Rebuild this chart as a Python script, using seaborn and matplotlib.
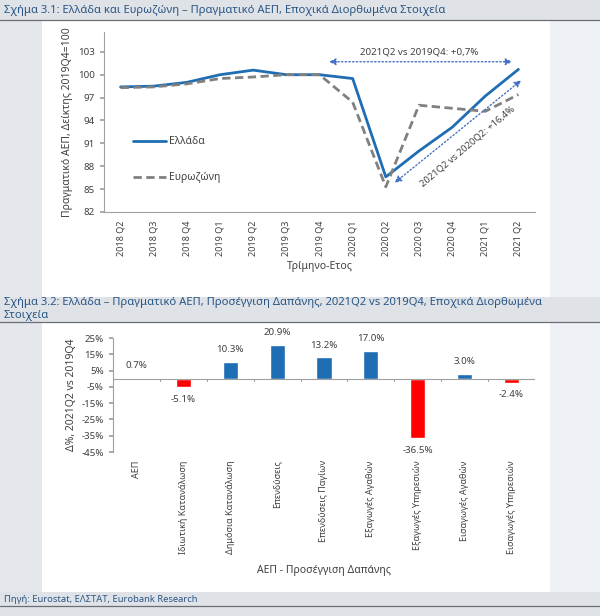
import numpy as np
import pandas as pd
import matplotlib
matplotlib.use("Agg")
import matplotlib.pyplot as plt
from matplotlib.patches import Rectangle
from matplotlib.lines import Line2D
import seaborn as sns

# data: chart 3.1
quarters = ['2018 Q2', '2018 Q3', '2018 Q4', '2019 Q1', '2019 Q2', '2019 Q3', '2019 Q4',
            '2020 Q1', '2020 Q2', '2020 Q3', '2020 Q4', '2021 Q1', '2021 Q2']
greece = [98.4, 98.5, 99.0, 100.0, 100.6, 100.0, 100.0, 99.5, 86.6, 90.0, 93.1, 97.2, 100.7]
eurozone = [98.3, 98.4, 98.8, 99.5, 99.7, 100.0, 100.0, 96.4, 85.3, 96.0, 95.6, 95.2, 97.4]

# data: chart 3.2
components = ['ΑΕΠ', 'Ιδιωτική Κατανάλωση', 'Δημόσια Κατανάλωση', 'Επενδύσεις',
              'Επενδύσεις Παγίων', 'Εξαγωγές Αγαθών', 'Εξαγωγές Υπηρεσιών',
              'Εισαγωγές Αγαθών', 'Εισαγωγές Υπηρεσιών']
change = [0.7, -5.1, 10.3, 20.9, 13.2, 17.0, -36.5, 3.0, -2.4]

BLUE = '#1f6db3'
GREY = '#808080'
ARROW = '#4472c4'
TXT = '#404040'
TITLE = '#2b5684'

sns.set_theme(style='white')
plt.rcParams['font.family'] = ['Noto Sans', 'DejaVu Sans']

fig = plt.figure(figsize=(6, 6.16), dpi=100)
fig.patch.set_facecolor('#eef2f7')

def px(x0, y0, w, h):
    # pixel box (top-left origin) -> figure fraction
    return [x0 / 600, 1 - (y0 + h) / 616, w / 600, h / 616]

# background panels
for (x0, y0, w, h, c) in [(0, 0, 42, 616, '#e4e7eb'), (42, 20, 508, 572, 'white'),
                          (0, 0, 600, 20, '#dfe3e8'), (0, 297, 600, 25, '#dfe3e8'),
                          (42, 322, 508, 270, 'white'), (0, 592, 600, 24, '#dfe3e8')]:
    b = px(x0, y0, w, h)
    fig.patches.append(Rectangle((b[0], b[1]), b[2], b[3], transform=fig.transFigure,
                                 facecolor=c, edgecolor='none', zorder=-10))
for y in [20, 322, 606]:
    fig.add_artist(Line2D([0, 1], [1 - y / 616] * 2, color='#6b6f75', lw=0.9))

fig.text(4 / 600, 1 - 10 / 616, 'Σχήμα 3.1: Ελλάδα και Ευρωζώνη – Πραγματικό ΑΕΠ, Εποχικά Διορθωμένα Στοιχεία',
         color=TITLE, fontsize=8.1, va='center')
fig.text(4 / 600, 1 - 309 / 616,
         'Σχήμα 3.2: Ελλάδα – Πραγματικό ΑΕΠ, Προσέγγιση Δαπάνης, 2021Q2 vs 2019Q4, Εποχικά Διορθωμένα\nΣτοιχεία',
         color=TITLE, fontsize=8.1, va='center', linespacing=1.2)
fig.text(4 / 600, 1 - 599 / 616, 'Πηγή: Eurostat, ΕΛΣΤΑΤ, Eurobank Research',
         color=TITLE, fontsize=6.8, va='center')

# ---- chart 3.1 ----
ax1 = fig.add_axes(px(104, 32, 431, 180))
ax1.set_facecolor('none')
sns.lineplot(x=quarters, y=greece, ax=ax1, color=BLUE, lw=2.0, label='Ελλάδα', sort=False)
sns.lineplot(x=quarters, y=eurozone, ax=ax1, color=GREY, lw=2.0, label='Ευρωζώνη',
             sort=False, linestyle=(0, (3, 1.6)))
ax1.set_xlim(-0.5, len(quarters) - 0.5)
ax1.set_ylim(82, 105.6)
ax1.set_yticks(np.arange(82, 104, 3))
ax1.set_xticks(range(len(quarters)))
ax1.set_xticklabels(quarters, rotation=90, fontsize=6.5, color=TXT)
ax1.set_xticks(np.arange(-0.5, len(quarters), 1), minor=True)
ax1.tick_params(axis='x', which='major', length=0, pad=6)
ax1.tick_params(axis='x', which='minor', length=3, color='#a0a0a0', direction='out')
ax1.tick_params(axis='y', labelsize=7, colors=TXT, length=3, color='#a0a0a0', left=True)
for s in ['top', 'right']:
    ax1.spines[s].set_visible(False)
for s in ['left', 'bottom']:
    ax1.spines[s].set_color('#a0a0a0')
    ax1.spines[s].set_linewidth(0.8)
ax1.set_xlabel('Τρίμηνο-Ετος', fontsize=7.5, color=TXT, labelpad=4)
ax1.set_ylabel('Πραγματικό ΑΕΠ, Δείκτης 2019Q4=100', fontsize=7.5, color=TXT, labelpad=4)
ax1.legend(loc='center left', bbox_to_anchor=(0.045, 0.29), frameon=False, fontsize=7.5,
           labelspacing=2.4, handlelength=3.2, handletextpad=0.3, labelcolor=TXT)

ax1.annotate('', xy=(11.9, 101.7), xytext=(6.2, 101.7),
             arrowprops=dict(arrowstyle='<|-|>', color=ARROW, lw=1.0, linestyle=':',
                             mutation_scale=10))
ax1.text(9.0, 103.0, '2021Q2 vs 2019Q4: +0,7%', fontsize=7, color=TXT, ha='center', va='center')
ax1.annotate('', xy=(12.15, 99.5), xytext=(8.2, 85.6),
             arrowprops=dict(arrowstyle='<|-|>', color=ARROW, lw=1.0, linestyle=':',
                             mutation_scale=10))
ax1.text(10.45, 90.6, '2021Q2 vs 2020Q2: +16,4%', fontsize=6.8, color=TXT, ha='center',
         va='center', rotation=40, rotation_mode='anchor')

# ---- chart 3.2 ----
ax2 = fig.add_axes(px(113, 338, 422, 114))
ax2.set_facecolor('none')
bar_colors = [BLUE if v >= 0 else '#ff0000' for v in change]
sns.barplot(x=components, y=change, hue=components, palette=bar_colors, legend=False,
            ax=ax2, width=0.32, saturation=1)
ax2.set_xlim(-0.5, len(components) - 0.5)
ax2.set_ylim(-45, 25)
ax2.set_yticks(np.arange(-45, 26, 10))
ax2.set_yticklabels([f'{t}%' for t in range(-45, 26, 10)], fontsize=7, color=TXT)
ax2.tick_params(axis='y', length=3, color='#a0a0a0', left=True)
ax2.set_xticks(range(len(components)))
ax2.set_xticklabels(components, rotation=90, fontsize=6.5, color=TXT)
ax2.tick_params(axis='x', length=0, pad=6)
ax2.axhline(0, color='#a0a0a0', lw=0.8)
for xb in np.arange(-0.5, len(components), 1):
    ax2.plot([xb, xb], [0, -1.2], color='#a0a0a0', lw=0.8)
for s in ['top', 'right', 'bottom']:
    ax2.spines[s].set_visible(False)
ax2.spines['left'].set_color('#a0a0a0')
ax2.spines['left'].set_linewidth(0.8)
for i, v in enumerate(change):
    off = 7.5 if v >= 0 else -7.5
    ax2.text(i, v + off, f'{v:.1f}%', ha='center', va='center', fontsize=7, color=TXT)
ax2.set_xlabel('ΑΕΠ - Προσέγγιση Δαπάνης', fontsize=7.5, color=TXT, labelpad=8)
ax2.set_ylabel('Δ%, 2021Q2 vs 2019Q4', fontsize=7.5, color=TXT, labelpad=3)

fig.savefig('out.png', dpi=100, facecolor=fig.get_facecolor())
